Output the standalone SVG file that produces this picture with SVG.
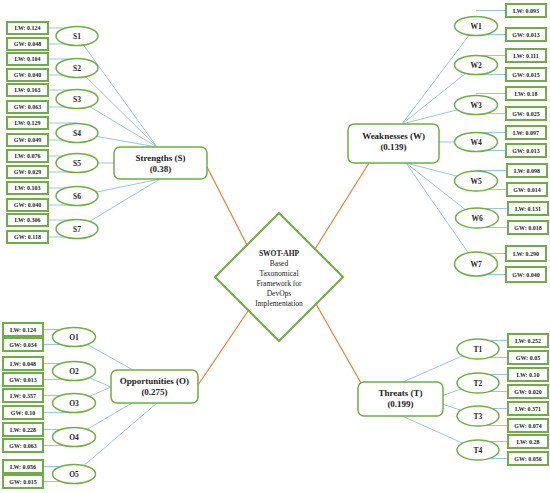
<svg xmlns="http://www.w3.org/2000/svg" width="550" height="493" viewBox="0 0 550 493">
<defs>
<style>
.bg{fill:#fff}
.bl{stroke:#9DC3E6;stroke-width:1;fill:none}
.or{stroke:#ED7D31;stroke-width:1.2;fill:none}
.vb{fill:#fff;stroke:#70AD47;stroke-width:2}
.el{fill:#fff;stroke:#70AD47;stroke-width:1.5}
.mb{fill:#fff;stroke:#70AD47;stroke-width:1.5}
.dm{fill:#fff;stroke:#70AD47;stroke-width:2}
text{font-family:"Liberation Serif","Times New Roman",serif;fill:#222;text-anchor:middle}
.vt{font-size:6px;font-weight:bold}
.et{font-size:7.5px;font-weight:bold}
.mt{font-size:9px;font-weight:bold}
.dt{font-size:7.5px}
</style>
</defs>
<rect class="bg" x="0" y="0" width="550" height="493"/>
<g id="connectors">
<!-- orange main -->
<line class="or" x1="207" y1="167" x2="247" y2="245"/>
<line class="or" x1="369" y1="163" x2="315" y2="249"/>
<line class="or" x1="198" y1="385" x2="248" y2="311"/>
<line class="or" x1="316" y1="304" x2="361" y2="383"/>
<!-- strengths -->
<line class="bl" x1="77" y1="36" x2="157" y2="147"/>
<line class="bl" x1="77" y1="68" x2="157" y2="147"/>
<line class="bl" x1="77" y1="99" x2="157" y2="147"/>
<line class="bl" x1="77" y1="133" x2="157" y2="147"/>
<line class="bl" x1="77" y1="163" x2="130" y2="163"/>
<line class="bl" x1="77" y1="196" x2="160" y2="179"/>
<line class="bl" x1="77" y1="229" x2="160" y2="179"/>
<line class="bl" x1="45" y1="28" x2="77" y2="28"/>
<line class="bl" x1="45" y1="44" x2="77" y2="44"/>
<line class="bl" x1="45" y1="59" x2="77" y2="59"/>
<line class="bl" x1="45" y1="75" x2="77" y2="75"/>
<line class="bl" x1="45" y1="90" x2="77" y2="90"/>
<line class="bl" x1="45" y1="107" x2="77" y2="107"/>
<line class="bl" x1="45" y1="123" x2="77" y2="123"/>
<line class="bl" x1="45" y1="140" x2="77" y2="140"/>
<line class="bl" x1="45" y1="156" x2="77" y2="156"/>
<line class="bl" x1="45" y1="172" x2="77" y2="172"/>
<line class="bl" x1="45" y1="188" x2="77" y2="188"/>
<line class="bl" x1="45" y1="205" x2="77" y2="205"/>
<line class="bl" x1="45" y1="220" x2="77" y2="220"/>
<line class="bl" x1="45" y1="237" x2="77" y2="237"/>
<!-- weaknesses -->
<line class="bl" x1="476" y1="26" x2="402" y2="124"/>
<line class="bl" x1="476" y1="65" x2="402" y2="124"/>
<line class="bl" x1="476" y1="105" x2="402" y2="124"/>
<line class="bl" x1="476" y1="142" x2="420" y2="142"/>
<line class="bl" x1="476" y1="181" x2="406" y2="163"/>
<line class="bl" x1="476" y1="218" x2="406" y2="163"/>
<line class="bl" x1="476" y1="264" x2="406" y2="163"/>
<line class="bl" x1="476" y1="10.5" x2="510" y2="10.5"/>
<line class="bl" x1="476" y1="34.5" x2="510" y2="34.5"/>
<line class="bl" x1="476" y1="55.5" x2="510" y2="55.5"/>
<line class="bl" x1="476" y1="74.5" x2="510" y2="74.5"/>
<line class="bl" x1="476" y1="93.5" x2="510" y2="93.5"/>
<line class="bl" x1="476" y1="113.5" x2="510" y2="113.5"/>
<line class="bl" x1="476" y1="132.5" x2="510" y2="132.5"/>
<line class="bl" x1="476" y1="150.5" x2="510" y2="150.5"/>
<line class="bl" x1="476" y1="170.5" x2="510" y2="170.5"/>
<line class="bl" x1="476" y1="189.5" x2="510" y2="189.5"/>
<line class="bl" x1="476" y1="208.5" x2="510" y2="208.5"/>
<line class="bl" x1="476" y1="227.5" x2="510" y2="227.5"/>
<line class="bl" x1="476" y1="253.5" x2="510" y2="253.5"/>
<line class="bl" x1="476" y1="274.5" x2="510" y2="274.5"/>
<!-- opportunities -->
<line class="bl" x1="74" y1="337" x2="133" y2="370"/>
<line class="bl" x1="74" y1="371" x2="111" y2="387"/>
<line class="bl" x1="74" y1="403" x2="111" y2="387"/>
<line class="bl" x1="74" y1="437" x2="132" y2="403"/>
<line class="bl" x1="74" y1="474" x2="157" y2="403"/>
<line class="bl" x1="40" y1="329.5" x2="74" y2="329.5"/>
<line class="bl" x1="40" y1="344.5" x2="74" y2="344.5"/>
<line class="bl" x1="40" y1="363.5" x2="74" y2="363.5"/>
<line class="bl" x1="40" y1="379.5" x2="74" y2="379.5"/>
<line class="bl" x1="40" y1="395.5" x2="74" y2="395.5"/>
<line class="bl" x1="40" y1="412.5" x2="74" y2="412.5"/>
<line class="bl" x1="40" y1="429.5" x2="74" y2="429.5"/>
<line class="bl" x1="40" y1="445.5" x2="74" y2="445.5"/>
<line class="bl" x1="40" y1="466.5" x2="74" y2="466.5"/>
<line class="bl" x1="40" y1="481.5" x2="74" y2="481.5"/>
<!-- threats -->
<line class="bl" x1="478" y1="349" x2="403" y2="382"/>
<line class="bl" x1="478" y1="383" x2="430" y2="400"/>
<line class="bl" x1="478" y1="416" x2="430" y2="400"/>
<line class="bl" x1="478" y1="450" x2="402" y2="416"/>
<line class="bl" x1="478" y1="340.5" x2="512" y2="340.5"/>
<line class="bl" x1="478" y1="357.5" x2="512" y2="357.5"/>
<line class="bl" x1="478" y1="374.5" x2="512" y2="374.5"/>
<line class="bl" x1="478" y1="391.5" x2="512" y2="391.5"/>
<line class="bl" x1="478" y1="408.5" x2="512" y2="408.5"/>
<line class="bl" x1="478" y1="425.5" x2="512" y2="425.5"/>
<line class="bl" x1="478" y1="441.5" x2="512" y2="441.5"/>
<line class="bl" x1="478" y1="458.5" x2="512" y2="458.5"/>
</g>

<g id="center">
<polygon class="dm" points="279,213 343,277 279,341 215,277"/>
<text class="dt" x="279" y="256" font-weight="bold">SWOT-AHP</text>
<text class="dt" x="279" y="266">Based</text>
<text class="dt" x="279" y="276">Taxonomical</text>
<text class="dt" x="279" y="286">Framework for</text>
<text class="dt" x="279" y="296">DevOps</text>
<text class="dt" x="279" y="306">Implementation</text>
</g>

<g id="strengths">
<rect class="mb" x="114" y="147" width="93" height="32" rx="6"/>
<text class="mt" x="160.5" y="161">Strengths (S)</text>
<text class="mt" x="160.5" y="172">(0.38)</text>
</g>
<g id="weaknesses">
<rect class="mb" x="348" y="124" width="91" height="39" rx="6"/>
<text class="mt" x="393.5" y="139">Weaknesses (W)</text>
<text class="mt" x="393.5" y="150">(0.139)</text>
</g>
<g id="opportunities">
<rect class="mb" x="111" y="370" width="87" height="33" rx="6"/>
<text class="mt" x="154.5" y="384">Opportunities (O)</text>
<text class="mt" x="154.5" y="395">(0.275)</text>
</g>
<g id="threats">
<rect class="mb" x="358" y="382" width="85" height="34" rx="6"/>
<text class="mt" x="400.5" y="396">Threats (T)</text>
<text class="mt" x="400.5" y="407">(0.199)</text>
</g>

<!-- Strength sub-nodes -->
<g id="S1"><ellipse class="el" cx="77" cy="36" rx="21" ry="9.5"/><text class="et" x="77" y="38.7">S1</text>
<rect class="vb" x="7" y="22" width="41" height="12"/><text class="vt" x="27.5" y="30.2">LW: 0.124</text>
<rect class="vb" x="7" y="38" width="41" height="12"/><text class="vt" x="27.5" y="46.2">GW: 0.048</text></g>
<g id="S2"><ellipse class="el" cx="77" cy="68" rx="21" ry="9.5"/><text class="et" x="77" y="70.7">S2</text>
<rect class="vb" x="7" y="53" width="41" height="12"/><text class="vt" x="27.5" y="61.2">LW: 0.104</text>
<rect class="vb" x="7" y="69" width="41" height="12"/><text class="vt" x="27.5" y="77.2">GW: 0.040</text></g>
<g id="S3"><ellipse class="el" cx="77" cy="99" rx="21" ry="9.5"/><text class="et" x="77" y="101.7">S3</text>
<rect class="vb" x="7" y="84" width="41" height="12"/><text class="vt" x="27.5" y="92.2">LW: 0.163</text>
<rect class="vb" x="7" y="101" width="41" height="12"/><text class="vt" x="27.5" y="109.2">GW: 0.063</text></g>
<g id="S4"><ellipse class="el" cx="77" cy="133" rx="21" ry="9.5"/><text class="et" x="77" y="135.7">S4</text>
<rect class="vb" x="7" y="117" width="41" height="12"/><text class="vt" x="27.5" y="125.2">LW: 0.129</text>
<rect class="vb" x="7" y="134" width="41" height="12"/><text class="vt" x="27.5" y="142.2">GW: 0.049</text></g>
<g id="S5"><ellipse class="el" cx="77" cy="163" rx="21" ry="9.5"/><text class="et" x="77" y="165.7">S5</text>
<rect class="vb" x="7" y="150" width="41" height="12"/><text class="vt" x="27.5" y="158.2">LW: 0.076</text>
<rect class="vb" x="7" y="166" width="41" height="12"/><text class="vt" x="27.5" y="174.2">GW: 0.029</text></g>
<g id="S6"><ellipse class="el" cx="77" cy="196" rx="21" ry="9.5"/><text class="et" x="77" y="198.7">S6</text>
<rect class="vb" x="7" y="182" width="41" height="12"/><text class="vt" x="27.5" y="190.2">LW: 0.103</text>
<rect class="vb" x="7" y="199" width="41" height="12"/><text class="vt" x="27.5" y="207.2">GW: 0.040</text></g>
<g id="S7"><ellipse class="el" cx="77" cy="229" rx="21" ry="9.5"/><text class="et" x="77" y="231.7">S7</text>
<rect class="vb" x="7" y="214" width="41" height="12"/><text class="vt" x="27.5" y="222.2">LW: 0.306</text>
<rect class="vb" x="7" y="231" width="41" height="12"/><text class="vt" x="27.5" y="239.2">GW: 0.118</text></g>

<!-- Weakness sub-nodes -->
<g id="W1"><ellipse class="el" cx="476" cy="26" rx="21.5" ry="9.5"/><text class="et" x="476" y="28.7">W1</text>
<rect class="vb" x="506" y="4" width="40" height="13"/><text class="vt" x="526" y="12.7">LW: 0.093</text>
<rect class="vb" x="506" y="28" width="40" height="13"/><text class="vt" x="526" y="36.7">GW: 0.013</text></g>
<g id="W2"><ellipse class="el" cx="476" cy="65" rx="21.5" ry="9.5"/><text class="et" x="476" y="67.7">W2</text>
<rect class="vb" x="506" y="49" width="40" height="13"/><text class="vt" x="526" y="57.7">LW: 0.111</text>
<rect class="vb" x="506" y="68" width="40" height="13"/><text class="vt" x="526" y="76.7">GW: 0.015</text></g>
<g id="W3"><ellipse class="el" cx="476" cy="105" rx="21.5" ry="9.5"/><text class="et" x="476" y="107.7">W3</text>
<rect class="vb" x="506" y="87" width="40" height="13"/><text class="vt" x="526" y="95.7">LW: 0.18</text>
<rect class="vb" x="506" y="107" width="40" height="13"/><text class="vt" x="526" y="115.7">GW: 0.025</text></g>
<g id="W4"><ellipse class="el" cx="476" cy="142" rx="21.5" ry="9.5"/><text class="et" x="476" y="144.7">W4</text>
<rect class="vb" x="506" y="126" width="40" height="13"/><text class="vt" x="526" y="134.7">LW: 0.097</text>
<rect class="vb" x="506" y="144" width="40" height="13"/><text class="vt" x="526" y="152.7">GW: 0.013</text></g>
<g id="W5"><ellipse class="el" cx="476" cy="181" rx="21.5" ry="10"/><text class="et" x="476" y="183.7">W5</text>
<rect class="vb" x="507" y="164" width="40" height="13"/><text class="vt" x="527" y="172.7">LW: 0.098</text>
<rect class="vb" x="507" y="183" width="40" height="13"/><text class="vt" x="527" y="191.7">GW: 0.014</text></g>
<g id="W6"><ellipse class="el" cx="477" cy="218" rx="21.5" ry="10"/><text class="et" x="477" y="220.7">W6</text>
<rect class="vb" x="508" y="202" width="40" height="13"/><text class="vt" x="528" y="210.7">LW: 0.131</text>
<rect class="vb" x="508" y="221" width="40" height="13"/><text class="vt" x="528" y="229.7">GW: 0.018</text></g>
<g id="W7"><ellipse class="el" cx="476" cy="264" rx="21.5" ry="12"/><text class="et" x="476" y="266.7">W7</text>
<rect class="vb" x="506" y="246" width="40" height="15"/><text class="vt" x="526" y="255.7">LW: 0.290</text>
<rect class="vb" x="506" y="267" width="40" height="15"/><text class="vt" x="526" y="276.7">GW: 0.040</text></g>

<!-- Opportunity sub-nodes -->
<g id="O1"><ellipse class="el" cx="74" cy="337" rx="21.5" ry="9.5"/><text class="et" x="74" y="339.7">O1</text>
<rect class="vb" x="3" y="323" width="40" height="13"/><text class="vt" x="23" y="331.7">LW: 0.124</text>
<rect class="vb" x="3" y="338" width="40" height="13"/><text class="vt" x="23" y="346.7">GW: 0.034</text></g>
<g id="O2"><ellipse class="el" cx="74" cy="371" rx="21.5" ry="9.5"/><text class="et" x="74" y="373.7">O2</text>
<rect class="vb" x="3" y="357" width="40" height="13"/><text class="vt" x="23" y="365.7">LW: 0.048</text>
<rect class="vb" x="3" y="373" width="40" height="13"/><text class="vt" x="23" y="381.7">GW: 0.013</text></g>
<g id="O3"><ellipse class="el" cx="74" cy="403" rx="21.5" ry="9.5"/><text class="et" x="74" y="405.7">O3</text>
<rect class="vb" x="3" y="389" width="40" height="13"/><text class="vt" x="23" y="397.7">LW: 0.357</text>
<rect class="vb" x="3" y="406" width="40" height="13"/><text class="vt" x="23" y="414.7">GW: 0.10</text></g>
<g id="O4"><ellipse class="el" cx="74" cy="437" rx="21.5" ry="9.5"/><text class="et" x="74" y="439.7">O4</text>
<rect class="vb" x="3" y="423" width="40" height="13"/><text class="vt" x="23" y="431.7">LW: 0.228</text>
<rect class="vb" x="3" y="439" width="40" height="13"/><text class="vt" x="23" y="447.7">GW: 0.063</text></g>
<g id="O5"><ellipse class="el" cx="74" cy="474" rx="21.5" ry="9.5"/><text class="et" x="74" y="476.7">O5</text>
<rect class="vb" x="3" y="460" width="40" height="13"/><text class="vt" x="23" y="468.7">LW: 0.056</text>
<rect class="vb" x="3" y="475" width="40" height="13"/><text class="vt" x="23" y="483.7">GW: 0.015</text></g>

<!-- Threat sub-nodes -->
<g id="T1"><ellipse class="el" cx="478" cy="349" rx="21" ry="10"/><text class="et" x="478" y="351.7">T1</text>
<rect class="vb" x="508" y="334" width="40" height="13"/><text class="vt" x="528" y="342.7">LW: 0.252</text>
<rect class="vb" x="508" y="351" width="40" height="13"/><text class="vt" x="528" y="359.7">GW: 0.05</text></g>
<g id="T2"><ellipse class="el" cx="478" cy="383" rx="21" ry="10"/><text class="et" x="478" y="385.7">T2</text>
<rect class="vb" x="508" y="368" width="40" height="13"/><text class="vt" x="528" y="376.7">LW: 0.10</text>
<rect class="vb" x="508" y="385" width="40" height="13"/><text class="vt" x="528" y="393.7">GW: 0.020</text></g>
<g id="T3"><ellipse class="el" cx="478" cy="416" rx="21" ry="10"/><text class="et" x="478" y="418.7">T3</text>
<rect class="vb" x="508" y="402" width="40" height="13"/><text class="vt" x="528" y="410.7">LW: 0.371</text>
<rect class="vb" x="508" y="419" width="40" height="13"/><text class="vt" x="528" y="427.7">GW: 0.074</text></g>
<g id="T4"><ellipse class="el" cx="478" cy="450" rx="21" ry="10"/><text class="et" x="478" y="452.7">T4</text>
<rect class="vb" x="508" y="435" width="40" height="13"/><text class="vt" x="528" y="443.7">LW: 0.28</text>
<rect class="vb" x="508" y="452" width="40" height="13"/><text class="vt" x="528" y="460.7">GW: 0.056</text></g>
</svg>
